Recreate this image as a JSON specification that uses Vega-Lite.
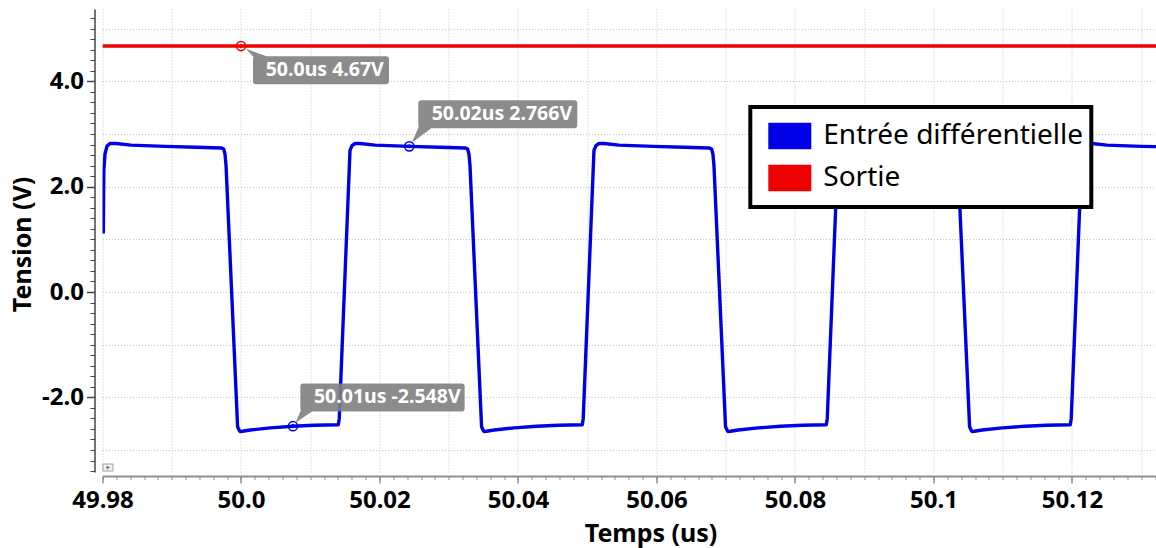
{
  "$schema": "https://vega.github.io/schema/vega-lite/v6.json",
  "width": 1053.5,
  "height": 463,
  "autosize": {"type": "none"},
  "padding": {"left": 102.5, "top": 9, "right": 0, "bottom": 76},
  "background": "white",
  "config": {"view": {"stroke": null}, "font": "Noto Sans"},
  "datasets": {
    "signaux": [
      {"serie": "Entrée différentielle", "t": 49.98012, "v": 1.11},
      {"serie": "Entrée différentielle", "t": 49.98019, "v": 2.31},
      {"serie": "Entrée différentielle", "t": 49.98036, "v": 2.62},
      {"serie": "Entrée différentielle", "t": 49.98065, "v": 2.77},
      {"serie": "Entrée différentielle", "t": 49.98108, "v": 2.82},
      {"serie": "Entrée différentielle", "t": 49.98195, "v": 2.82},
      {"serie": "Entrée différentielle", "t": 49.98412, "v": 2.79},
      {"serie": "Entrée différentielle", "t": 49.98907, "v": 2.766},
      {"serie": "Entrée différentielle", "t": 49.99351, "v": 2.75},
      {"serie": "Entrée différentielle", "t": 49.99712, "v": 2.735},
      {"serie": "Entrée différentielle", "t": 49.99748, "v": 2.72},
      {"serie": "Entrée différentielle", "t": 49.99769, "v": 2.62},
      {"serie": "Entrée différentielle", "t": 49.99784, "v": 2.40},
      {"serie": "Entrée différentielle", "t": 49.99951, "v": -2.56},
      {"serie": "Entrée différentielle", "t": 49.99976, "v": -2.63},
      {"serie": "Entrée différentielle", "t": 49.99990, "v": -2.65},
      {"serie": "Entrée différentielle", "t": 50.00019, "v": -2.645},
      {"serie": "Entrée différentielle", "t": 50.00135, "v": -2.62},
      {"serie": "Entrée différentielle", "t": 50.00423, "v": -2.58},
      {"serie": "Entrée différentielle", "t": 50.00750, "v": -2.548},
      {"serie": "Entrée différentielle", "t": 50.01059, "v": -2.53},
      {"serie": "Entrée différentielle", "t": 50.01405, "v": -2.52},
      {"serie": "Entrée différentielle", "t": 50.01419, "v": -2.40},
      {"serie": "Entrée différentielle", "t": 50.01574, "v": 2.69},
      {"serie": "Entrée différentielle", "t": 50.01603, "v": 2.78},
      {"serie": "Entrée différentielle", "t": 50.01646, "v": 2.82},
      {"serie": "Entrée différentielle", "t": 50.01718, "v": 2.82},
      {"serie": "Entrée différentielle", "t": 50.01935, "v": 2.79},
      {"serie": "Entrée différentielle", "t": 50.02430, "v": 2.766},
      {"serie": "Entrée différentielle", "t": 50.02874, "v": 2.75},
      {"serie": "Entrée différentielle", "t": 50.03235, "v": 2.735},
      {"serie": "Entrée différentielle", "t": 50.03271, "v": 2.72},
      {"serie": "Entrée différentielle", "t": 50.03292, "v": 2.62},
      {"serie": "Entrée différentielle", "t": 50.03307, "v": 2.40},
      {"serie": "Entrée différentielle", "t": 50.03474, "v": -2.56},
      {"serie": "Entrée différentielle", "t": 50.03499, "v": -2.63},
      {"serie": "Entrée différentielle", "t": 50.03513, "v": -2.65},
      {"serie": "Entrée différentielle", "t": 50.03542, "v": -2.645},
      {"serie": "Entrée différentielle", "t": 50.03658, "v": -2.62},
      {"serie": "Entrée différentielle", "t": 50.03946, "v": -2.58},
      {"serie": "Entrée différentielle", "t": 50.04273, "v": -2.548},
      {"serie": "Entrée différentielle", "t": 50.04582, "v": -2.53},
      {"serie": "Entrée différentielle", "t": 50.04928, "v": -2.52},
      {"serie": "Entrée différentielle", "t": 50.04942, "v": -2.40},
      {"serie": "Entrée différentielle", "t": 50.05097, "v": 2.69},
      {"serie": "Entrée différentielle", "t": 50.05126, "v": 2.78},
      {"serie": "Entrée différentielle", "t": 50.05169, "v": 2.82},
      {"serie": "Entrée différentielle", "t": 50.05241, "v": 2.82},
      {"serie": "Entrée différentielle", "t": 50.05458, "v": 2.79},
      {"serie": "Entrée différentielle", "t": 50.05953, "v": 2.766},
      {"serie": "Entrée différentielle", "t": 50.06397, "v": 2.75},
      {"serie": "Entrée différentielle", "t": 50.06758, "v": 2.735},
      {"serie": "Entrée différentielle", "t": 50.06794, "v": 2.72},
      {"serie": "Entrée différentielle", "t": 50.06815, "v": 2.62},
      {"serie": "Entrée différentielle", "t": 50.06830, "v": 2.40},
      {"serie": "Entrée différentielle", "t": 50.06997, "v": -2.56},
      {"serie": "Entrée différentielle", "t": 50.07022, "v": -2.63},
      {"serie": "Entrée différentielle", "t": 50.07036, "v": -2.65},
      {"serie": "Entrée différentielle", "t": 50.07065, "v": -2.645},
      {"serie": "Entrée différentielle", "t": 50.07181, "v": -2.62},
      {"serie": "Entrée différentielle", "t": 50.07469, "v": -2.58},
      {"serie": "Entrée différentielle", "t": 50.07796, "v": -2.548},
      {"serie": "Entrée différentielle", "t": 50.08105, "v": -2.53},
      {"serie": "Entrée différentielle", "t": 50.08452, "v": -2.52},
      {"serie": "Entrée différentielle", "t": 50.08466, "v": -2.40},
      {"serie": "Entrée différentielle", "t": 50.08621, "v": 2.69},
      {"serie": "Entrée différentielle", "t": 50.08650, "v": 2.78},
      {"serie": "Entrée différentielle", "t": 50.08693, "v": 2.82},
      {"serie": "Entrée différentielle", "t": 50.08765, "v": 2.82},
      {"serie": "Entrée différentielle", "t": 50.08982, "v": 2.79},
      {"serie": "Entrée différentielle", "t": 50.09477, "v": 2.766},
      {"serie": "Entrée différentielle", "t": 50.09921, "v": 2.75},
      {"serie": "Entrée différentielle", "t": 50.10282, "v": 2.735},
      {"serie": "Entrée différentielle", "t": 50.10318, "v": 2.72},
      {"serie": "Entrée différentielle", "t": 50.10339, "v": 2.62},
      {"serie": "Entrée différentielle", "t": 50.10354, "v": 2.40},
      {"serie": "Entrée différentielle", "t": 50.10521, "v": -2.56},
      {"serie": "Entrée différentielle", "t": 50.10546, "v": -2.63},
      {"serie": "Entrée différentielle", "t": 50.10560, "v": -2.65},
      {"serie": "Entrée différentielle", "t": 50.10589, "v": -2.645},
      {"serie": "Entrée différentielle", "t": 50.10705, "v": -2.62},
      {"serie": "Entrée différentielle", "t": 50.10993, "v": -2.58},
      {"serie": "Entrée différentielle", "t": 50.11320, "v": -2.548},
      {"serie": "Entrée différentielle", "t": 50.11629, "v": -2.53},
      {"serie": "Entrée différentielle", "t": 50.11975, "v": -2.52},
      {"serie": "Entrée différentielle", "t": 50.11989, "v": -2.40},
      {"serie": "Entrée différentielle", "t": 50.12144, "v": 2.69},
      {"serie": "Entrée différentielle", "t": 50.12173, "v": 2.78},
      {"serie": "Entrée différentielle", "t": 50.12216, "v": 2.82},
      {"serie": "Entrée différentielle", "t": 50.12288, "v": 2.82},
      {"serie": "Entrée différentielle", "t": 50.12505, "v": 2.79},
      {"serie": "Entrée différentielle", "t": 50.13000, "v": 2.766},
      {"serie": "Entrée différentielle", "t": 50.13213, "v": 2.76},
      {"serie": "Sortie", "t": 49.98, "v": 4.67},
      {"serie": "Sortie", "t": 50.13213, "v": 4.67}
    ],
    "reperes": [
      {"id": "a", "serie": "Sortie", "t": 50.0, "v": 4.67, "texte": "50.0us 4.67V"},
      {"id": "b", "serie": "Entrée différentielle", "t": 50.0243, "v": 2.766, "texte": "50.02us 2.766V"},
      {"id": "c", "serie": "Entrée différentielle", "t": 50.0075, "v": -2.548, "texte": "50.01us -2.548V"}
    ]
  },
  "resolve": {"axis": {"x": "independent", "y": "independent"}},
  "layer": [
    {
      "data": {"name": "signaux"},
      "mark": {"type": "line", "strokeWidth": 3.4, "clip": true, "strokeJoin": "round"},
      "encoding": {
        "x": {
          "field": "t", "type": "quantitative",
          "scale": {"domain": [49.98, 50.13213], "nice": false, "zero": false},
          "axis": {
            "orient": "bottom", "offset": 4,
            "values": [49.98, 50.0, 50.02, 50.04, 50.06, 50.08, 50.1, 50.12],
            "labelExpr": "datum.value === 50 ? '50.0' : toString(round(datum.value * 100) / 100)",
            "grid": false,
            "domainColor": "#8f8f8f", "domainWidth": 2,
            "tickColor": "#8f8f8f", "tickWidth": 1.5, "tickSize": 7,
            "labelFont": "Noto Sans", "labelFontWeight": "bold", "labelFontSize": 24, "labelColor": "#000000",
            "labelPadding": 5, "labelFlush": false, "labelOverlap": false,
            "title": "Temps (us)",
            "titleFont": "Noto Sans", "titleFontWeight": "bold", "titleFontSize": 25, "titleColor": "#000000",
            "titleX": 548, "titleY": 65, "titleAlign": "center", "titleBaseline": "alphabetic"
          }
        },
        "y": {
          "field": "v", "type": "quantitative",
          "scale": {"domain": [-3.418, 5.374], "nice": false, "zero": false},
          "axis": {
            "orient": "left", "offset": 8,
            "values": [-2, 0, 2, 4],
            "labelExpr": "(datum.value < 0 ? '-' : '') + format(abs(datum.value), '.1f')",
            "grid": false,
            "domainColor": "#454545", "domainWidth": 1.5,
            "tickColor": "#454545", "tickWidth": 1.5, "tickSize": 8,
            "labelFont": "Noto Sans", "labelFontWeight": "bold", "labelFontSize": 24, "labelColor": "#000000",
            "labelPadding": 3, "labelFlush": false, "labelOverlap": false,
            "title": "Tension (V)",
            "titleFont": "Noto Sans", "titleFontWeight": "bold", "titleFontSize": 25, "titleColor": "#000000",
            "titleX": -64.5, "titleY": 235, "titleAlign": "center", "titleBaseline": "alphabetic", "titleAngle": 270
          }
        },
        "color": {
          "field": "serie", "type": "nominal",
          "scale": {"domain": ["Entrée différentielle", "Sortie"], "range": ["#0000e6", "#ee0000"]},
          "legend": {
            "title": null,
            "orient": "none", "legendX": 647.8, "legendY": 98,
            "direction": "vertical",
            "symbolType": "M-1,-0.62L1,-0.62L1,0.62L-1,0.62Z",
            "symbolSize": 1849,
            "symbolOffset": 10,
            "symbolStrokeWidth": 0,
            "labelFont": "Noto Sans", "labelFontSize": 28, "labelColor": "#000000",
            "labelOffset": 12, "labelLimit": 500,
            "clipHeight": 42, "rowPadding": 0,
            "padding": 8,
            "strokeColor": "#000000", "fillColor": "#ffffff",
            "encode": {
              "legend": {"update": {"stroke": {"value": "#000000"}, "strokeWidth": {"value": 4}, "fill": {"value": "#ffffff"}}},
              "symbols": {"update": {"fill": {"scale": "color", "field": "value"}, "fillOpacity": {"value": 1}, "stroke": {"value": "transparent"}, "strokeWidth": {"value": 0}}}
            }
          }
        }
      }
    },
    {
      "data": {"name": "reperes"},
      "mark": {"type": "point", "shape": "circle", "filled": false, "size": 85, "strokeWidth": 1.5, "opacity": 1},
      "encoding": {
        "x": {
          "field": "t", "type": "quantitative",
          "axis": {
            "orient": "bottom", "offset": 4, "tickCount": 76,
            "domain": false, "labels": false, "grid": false, "title": null,
            "tickColor": "#8f8f8f", "tickWidth": 1, "tickSize": 3.5
          }
        },
        "y": {
          "field": "v", "type": "quantitative",
          "axis": {
            "orient": "left", "offset": 8, "tickCount": 44,
            "domain": false, "labels": false, "grid": false, "title": null,
            "tickColor": "#454545", "tickWidth": 1, "tickSize": 4.5
          }
        },
        "stroke": {
          "field": "serie", "type": "nominal",
          "scale": {"domain": ["Entrée différentielle", "Sortie"], "range": ["#0000e6", "#ee0000"]},
          "legend": null
        }
      }
    },
    {
      "data": {"name": "reperes"},
      "mark": {"type": "point", "shape": "circle", "filled": false, "size": 9, "strokeWidth": 1.2, "opacity": 1},
      "encoding": {
        "x": {
          "field": "t", "type": "quantitative",
          "axis": {
            "orient": "bottom", "tickCount": 15,
            "domain": false, "labels": false, "ticks": false, "title": null,
            "grid": true, "gridColor": "#c4c4c4", "gridDash": [1, 2], "gridWidth": 1
          }
        },
        "y": {
          "field": "v", "type": "quantitative",
          "axis": {
            "orient": "left", "tickCount": 9,
            "domain": false, "labels": false, "ticks": false, "title": null,
            "grid": true, "gridColor": "#c4c4c4", "gridDash": [1, 2], "gridWidth": 1
          }
        },
        "stroke": {
          "field": "serie", "type": "nominal",
          "scale": {"domain": ["Entrée différentielle", "Sortie"], "range": ["#0000e6", "#ee0000"]},
          "legend": null
        }
      }
    },
    {
      "data": {"name": "reperes"},
      "transform": [{"filter": "datum.id === 'a'"}],
      "encoding": {
        "x": {"field": "t", "type": "quantitative", "axis": null},
        "y": {"field": "v", "type": "quantitative", "axis": null}
      },
      "layer": [
        {
          "mark": {
            "type": "point", "filled": true, "size": 40000, "color": "#7f7f7f", "fillOpacity": 0.9, "strokeWidth": 0,
            "shape": "M0.045,0.025L0.29,0.115L0.13,0.115ZM0.15,0.103L1.45,0.103Q1.48,0.103 1.48,0.133L1.48,0.353Q1.48,0.383 1.45,0.383L0.15,0.383Q0.12,0.383 0.12,0.353L0.12,0.133Q0.12,0.103 0.15,0.103Z"
          }
        },
        {
          "mark": {"type": "text", "align": "left", "baseline": "middle", "dx": 24.7, "dy": 24.3, "font": "Noto Sans", "fontWeight": "bold", "fontSize": 19.5, "color": "#ffffff"},
          "encoding": {"text": {"field": "texte"}}
        }
      ]
    },
    {
      "data": {"name": "reperes"},
      "transform": [{"filter": "datum.id === 'b'"}],
      "encoding": {
        "x": {"field": "t", "type": "quantitative", "axis": null},
        "y": {"field": "v", "type": "quantitative", "axis": null}
      },
      "layer": [
        {
          "mark": {
            "type": "point", "filled": true, "size": 40000, "color": "#7f7f7f", "fillOpacity": 0.9, "strokeWidth": 0,
            "shape": "M0.025,-0.035L0.095,-0.195L0.24,-0.195ZM0.12,-0.462L1.65,-0.462Q1.68,-0.462 1.68,-0.432L1.68,-0.212Q1.68,-0.182 1.65,-0.182L0.12,-0.182Q0.09,-0.182 0.09,-0.212L0.09,-0.432Q0.09,-0.462 0.12,-0.462Z"
          }
        },
        {
          "mark": {"type": "text", "align": "left", "baseline": "middle", "dx": 22.4, "dy": -32.2, "font": "Noto Sans", "fontWeight": "bold", "fontSize": 19.5, "color": "#ffffff"},
          "encoding": {"text": {"field": "texte"}}
        }
      ]
    },
    {
      "data": {"name": "reperes"},
      "transform": [{"filter": "datum.id === 'c'"}],
      "encoding": {
        "x": {"field": "t", "type": "quantitative", "axis": null},
        "y": {"field": "v", "type": "quantitative", "axis": null}
      },
      "layer": [
        {
          "mark": {
            "type": "point", "filled": true, "size": 40000, "color": "#7f7f7f", "fillOpacity": 0.9, "strokeWidth": 0,
            "shape": "M0.025,-0.035L0.08,-0.16L0.21,-0.16ZM0.104,-0.427L1.687,-0.427Q1.717,-0.427 1.717,-0.397L1.717,-0.177Q1.717,-0.147 1.687,-0.147L0.104,-0.147Q0.074,-0.147 0.074,-0.177L0.074,-0.397Q0.074,-0.427 0.104,-0.427Z"
          }
        },
        {
          "mark": {"type": "text", "align": "left", "baseline": "middle", "dx": 21, "dy": -28.7, "font": "Noto Sans", "fontWeight": "bold", "fontSize": 19.5, "color": "#ffffff"},
          "encoding": {"text": {"field": "texte"}}
        }
      ]
    },
    {
      "data": {"values": [{}]},
      "mark": {"type": "point", "shape": "M-1,-0.7L1,-0.7L1,0.7L-1,0.7Z", "size": 100, "filled": true, "fill": "#f2f2f2", "stroke": "#a0a0a0", "strokeWidth": 1, "opacity": 1},
      "encoding": {
        "x": {"datum": 49.98079, "type": "quantitative", "axis": null},
        "y": {"datum": -3.333, "type": "quantitative", "axis": null}
      }
    },
    {
      "data": {"values": [{}]},
      "mark": {"type": "point", "shape": "M-0.3,-0.4L0.4,0L-0.3,0.4Z", "size": 100, "filled": true, "fill": "#707070", "strokeWidth": 0, "opacity": 1},
      "encoding": {
        "x": {"datum": 49.98079, "type": "quantitative", "axis": null},
        "y": {"datum": -3.333, "type": "quantitative", "axis": null}
      }
    }
  ]
}
